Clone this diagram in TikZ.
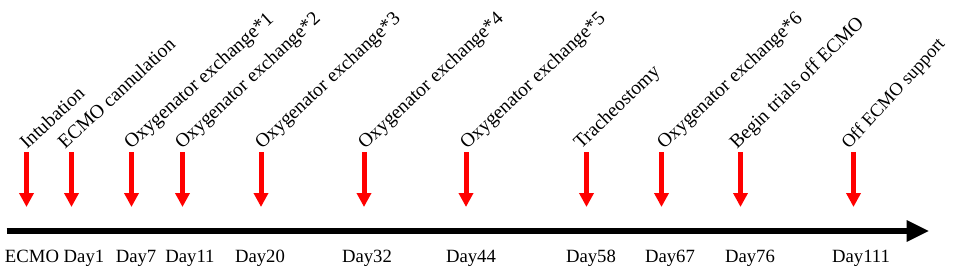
\documentclass[tikz,border=0pt]{standalone}
\usepackage{fontspec}
\setmainfont{Liberation Serif}
\usetikzlibrary{arrows.meta}
\begin{document}
\begin{tikzpicture}[x=1pt,y=-1pt,
  evarrow/.style={draw=red, line width=5pt, -{Triangle[width=14pt,length=14pt]}},
  axisline/.style={draw=black, line width=6.8pt, -{Triangle[width=20pt,length=22.6pt]}},
  evlabel/.style={anchor=base west, inner sep=0pt},
  daylabel/.style={anchor=base, inner sep=0pt, font=\fontsize{18.7}{20}\selectfont}]
\useasboundingbox (0,0) rectangle (957,270);
\coordinate (axs) at (6.7,231);
\coordinate (axe) at (929.3,231);
\draw[axisline] (axs) -- (axe);
\foreach \i/\x/\sx/\a/\fs/\t/\lx/\d in {
  1/26.5/27/43/19.5/Intubation/32/ECMO,
  2/71.5/65/43/19.5/ECMO cannulation/84/Day1,
  3/131.5/131/42/19.8/Oxygenator exchange*1/136/Day7,
  4/182.5/182/43/19.5/Oxygenator exchange*2/190/Day11,
  5/261/262/43/19.5/Oxygenator exchange*3/260/Day20,
  6/364/365/43/19.5/Oxygenator exchange*4/367/Day32,
  7/466/467/43/19.5/Oxygenator exchange*5/471/Day44,
  8/586.5/581/44/19.5/Tracheostomy/591/Day58,
  9/661.5/664/43/19.5/Oxygenator exchange*6/670/Day67,
  10/740.5/737/44.5/19.5/Begin trials off ECMO/750/Day76,
  11/853.5/849/47.5/18.4/Off ECMO support/861/Day111}{
  \coordinate (top\i) at (\x,152);
  \coordinate (bot\i) at (\x,207);
  \draw[evarrow] (top\i) -- (bot\i);
  \node[evlabel, rotate=\a, font=\fontsize{\fs}{21}\selectfont] (ev\i) at (\sx,150) {\t};
  \node[daylabel] (day\i) at (\lx,262) {\d};
}
\end{tikzpicture}
\end{document}
